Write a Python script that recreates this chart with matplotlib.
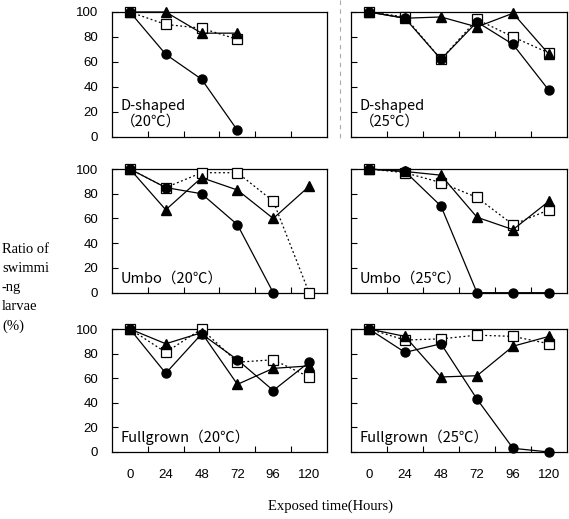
import matplotlib
matplotlib.use('Agg')
import matplotlib.pyplot as plt
from matplotlib.lines import Line2D

# exposure times (hours) and per-panel survival ratios (%)
hours = ['0', '24', '48', '72', '96', '120']

d20_circle = [100, 66, 46, 5]
d20_triangle = [100, 100, 83, 83]
d20_square = [100, 90, 87, 78]

d25_circle = [100, 95, 62, 92, 74, 37]
d25_triangle = [100, 95, 96, 88, 99, 66]
d25_square = [100, 96, 62, 94, 80, 67]

u20_circle = [100, 85, 80, 55, 0]
u20_triangle = [100, 67, 93, 83, 60, 86]
u20_square = [100, 85, 97, 97, 74, 0]

u25_circle = [100, 98, 70, 0, 0, 0]
u25_triangle = [100, 98, 95, 61, 51, 74]
u25_square = [100, 97, 89, 77, 55, 67]

f20_circle = [100, 64, 96, 75, 50, 73]
f20_triangle = [100, 88, 97, 55, 68, 70]
f20_square = [100, 81, 100, 73, 75, 61]

f25_circle = [100, 81, 88, 43, 3, 0]
f25_triangle = [100, 94, 61, 62, 86, 94]
f25_square = [100, 91, 92, 95, 94, 88]

panels = [
    ('D-shaped\n（20℃）', d20_circle, d20_triangle, d20_square),
    ('D-shaped\n（25℃）', d25_circle, d25_triangle, d25_square),
    ('Umbo（20℃）', u20_circle, u20_triangle, u20_square),
    ('Umbo（25℃）', u25_circle, u25_triangle, u25_square),
    ('Fullgrown（20℃）', f20_circle, f20_triangle, f20_square),
    ('Fullgrown（25℃）', f25_circle, f25_triangle, f25_square),
]

W, H = 569, 519
fig = plt.figure(figsize=(W / 100, H / 100), dpi=100)

cols = [(112, 327), (351, 567)]
rows = [(12, 136.5), (169, 292.7), (329, 452)]

jp = ['Noto Sans CJK JP', 'DejaVu Sans']

for i, (name, circ, tri, sq) in enumerate(panels):
    r, c = divmod(i, 2)
    x0, x1 = cols[c]
    yt, yb = rows[r]
    ax = fig.add_axes([x0 / W, (H - yb) / H, (x1 - x0) / W, (yb - yt) / H])

    ax.plot(range(len(sq)), sq, color='black', lw=0.9, ls=(0, (1.5, 2)),
            marker='s', ms=7.5, mfc='white', mec='black', mew=0.9, zorder=3,
            clip_on=False)
    ax.plot(range(len(tri)), tri, color='black', lw=0.9, marker='^', ms=7,
            mfc='black', mec='black', zorder=4, clip_on=False)
    ax.plot(range(len(circ)), circ, color='black', lw=0.9, marker='o', ms=6.5,
            mfc='black', mec='black', zorder=5, clip_on=False)

    ax.set_xlim(-0.5, 5.5)
    ax.set_ylim(0, 100)
    ax.set_yticks([0, 20, 40, 60, 80, 100])
    ax.set_xticks(range(6))
    ax.set_xticks([k + 0.5 for k in range(5)], minor=True)
    ax.tick_params(axis='x', which='major', length=0, pad=12)
    ax.tick_params(axis='x', which='minor', direction='in', length=4, width=0.8)
    ax.tick_params(axis='y', direction='in', length=4, width=0.8, pad=10)
    for s in ax.spines.values():
        s.set_linewidth(0.9)

    if r == 2:
        ax.set_xticklabels(hours, fontsize=9.5, family='Liberation Sans')
    else:
        ax.set_xticklabels([])
    if c == 0:
        ax.set_yticklabels([0, 20, 40, 60, 80, 100], fontsize=9.5, family='Liberation Sans')
    else:
        ax.set_yticklabels([])

    ax.text(0.04, 0.06, name, transform=ax.transAxes, fontsize=10.5,
            family=jp, ha='left', va='bottom', linespacing=1.2)

# dashed divider seen between the top panels
fig.add_artist(Line2D([340 / W, 340 / W], [1, (H - 140) / H], color='#aaaaaa',
                      lw=0.8, ls=(0, (4, 4))))

fig.text(2 / W, (H - 288) / H, 'Ratio of\nswimmi\n-ng\nlarvae\n(%)', fontsize=10.5,
         family='Liberation Serif', ha='left', va='center', linespacing=1.6)
fig.text(330 / W, (H - 506) / H, 'Exposed time(Hours)', fontsize=10.5,
         family='Liberation Serif', ha='center', va='center')

fig.savefig('out.png', dpi=100)
